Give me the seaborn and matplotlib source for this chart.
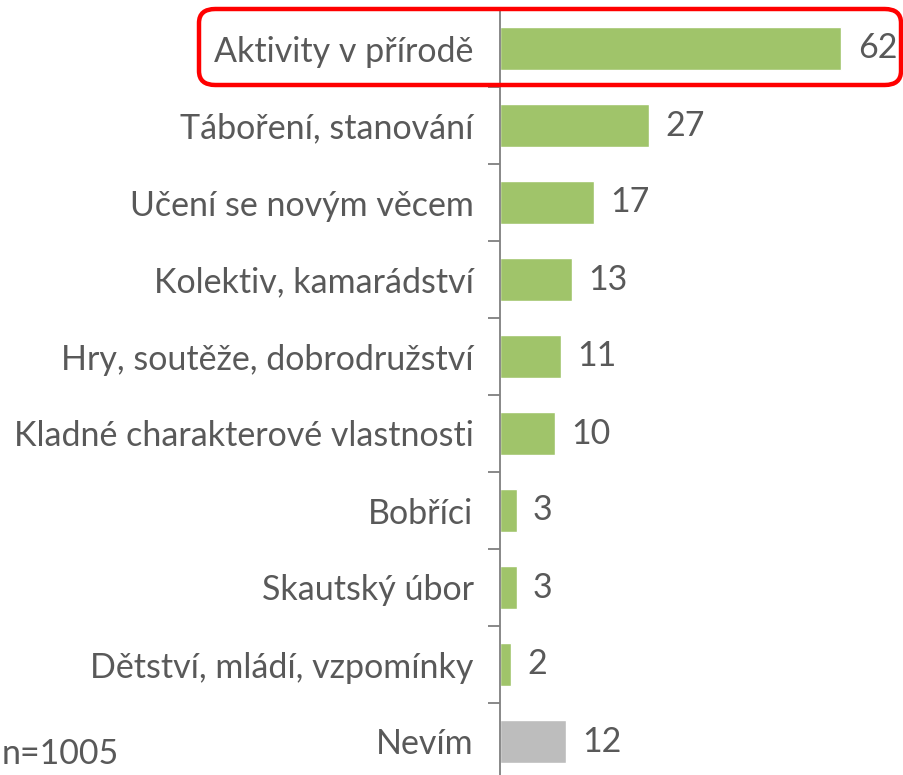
import matplotlib.pyplot as plt
import pandas as pd
import seaborn as sns
from matplotlib.patches import FancyBboxPatch

categories = [
    "Aktivity v přírodě",
    "Táboření, stanování",
    "Učení se novým věcem",
    "Kolektiv, kamarádství",
    "Hry, soutěže, dobrodružství",
    "Kladné charakterové vlastnosti",
    "Bobříci",
    "Skautský úbor",
    "Dětství, mládí, vzpomínky",
    "Nevím",
]
values = [62, 27, 17, 13, 11, 10, 3, 3, 2, 12]
colors = ["#A0C46A"] * 9 + ["#BDBDBD"]

df = pd.DataFrame({"category": categories, "value": values})

sns.set_theme(style="white")
plt.rcParams["font.family"] = ["Lato", "DejaVu Sans"]
text_color = "#595959"
fs = 24.5

fig = plt.figure(figsize=(9.04, 7.75), dpi=100)
ax = fig.add_axes([500 / 904, -5 / 775, 404 / 904, 770 / 775])

sns.barplot(data=df, x="value", y="category", hue="category", palette=colors,
            legend=False, width=0.55, ax=ax, saturation=1)

ax.set_xlim(0, 73.4)
ax.set_ylim(len(categories) - 0.5, -0.5)
ax.set_xlabel("")
ax.set_ylabel("")
ax.set_xticks([])
for s in ["top", "right", "bottom"]:
    ax.spines[s].set_visible(False)
ax.spines["left"].set_color("#7F7F7F")
ax.spines["left"].set_linewidth(1.3)

# category labels, ticks sit between the bars
ax.tick_params(axis="y", which="major", length=0, pad=19, labelsize=fs, labelcolor=text_color)
ax.set_yticks([i - 0.5 for i in range(len(categories) + 1)], minor=True)
ax.tick_params(axis="y", which="minor", length=9, width=1.3, color="#7F7F7F", left=True)

for i, v in enumerate(values):
    ax.text(v + 3.0, i, str(v), va="center", ha="left", fontsize=fs, color=text_color, clip_on=False)

# highlight box around the top item
box = FancyBboxPatch((199 / 904, 690 / 775), 702 / 904, 76 / 775,
                     boxstyle="round,pad=0,rounding_size=0.018",
                     transform=fig.transFigure, fill=False, edgecolor="#FF0000",
                     linewidth=3.2, clip_on=False)
fig.patches.append(box)

fig.text(0.002, 0.006, "n=1005", ha="left", va="bottom", fontsize=fs, color=text_color)

fig.savefig("out.png", dpi=100)
